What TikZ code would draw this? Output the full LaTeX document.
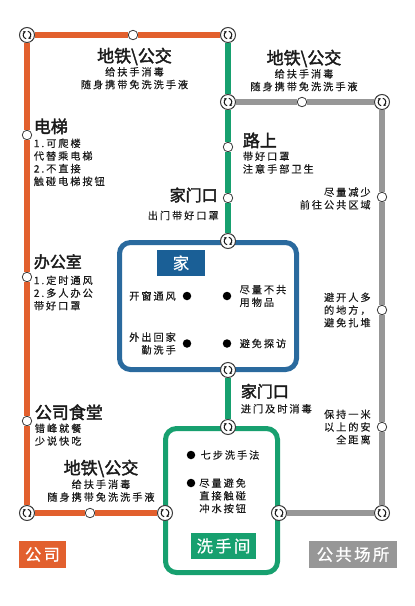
\documentclass[tikz,border=0pt]{standalone}
\usepackage{fontspec}
\usepackage{xcolor}
\usetikzlibrary{arrows.meta, positioning}
\newfontfamily\headcjk[FakeBold=2.2]{Noto Sans CJK SC}
\newfontfamily\notecjk[LetterSpace=19, FakeBold=0.35]{Noto Sans CJK SC}
\newfontfamily\tagcjk[LetterSpace=14, FakeBold=0.7]{Noto Sans CJK SC}
\definecolor{lineorange}{HTML}{E2602E}
\definecolor{linegreen}{HTML}{17A06F}
\definecolor{linegray}{HTML}{979797}
\definecolor{homeblue}{HTML}{2A6A9E}
\definecolor{tagblue}{HTML}{1A5F96}
\definecolor{inkdark}{HTML}{1A1A1A}

\begin{document}
\begin{tikzpicture}[
      x=1pt, y=-1pt,
      junction/.style={circle, draw=inkdark!85, line width=1pt, fill=white, inner sep=0pt,
                  minimum size=15pt,
                  path picture={
                    \draw[shift={(path picture bounding box.center)}, line width=1pt, inkdark,
                          -{Stealth[length=2.4pt,width=3pt]}]
                      (-0.8,3.8) .. controls (-4.6,3) and (-4.4,-2) .. (-1.2,-3.6);
                    \draw[shift={(path picture bounding box.center)}, line width=1pt, inkdark,
                          -{Stealth[length=2.4pt,width=3pt]}]
                      (0.8,-3.8) .. controls (4.6,-3) and (4.4,2) .. (1.2,3.6);
                  }},
      station/.style={circle, draw=inkdark!85, line width=0.8pt, fill=white, inner sep=0pt,
                  minimum size=9.5pt},
      dot/.style={circle, fill=black, inner sep=0pt, minimum size=8.5pt},
      head/.style={inner sep=0pt, text=inkdark, font=\fontsize{17}{20}\selectfont\headcjk},
      subhead/.style={head, font=\fontsize{16}{20}\selectfont\headcjk},
      note/.style={inner sep=0pt, text=inkdark, align=left,
                  font=\fontsize{10.2}{12.7}\selectfont\notecjk},
      tag/.style={inner sep=0pt, text=white, minimum height=26.5pt,
                  font=\fontsize{16.4}{20}\selectfont\tagcjk},
      roombox/.style={draw, line width=5pt, rounded corners=11pt, fill=white, inner sep=0pt},
      orangeline/.style={lineorange, line width=6.5pt},
      greenline/.style={linegreen, line width=6pt},
      grayline/.style={linegray, line width=6pt}
    ]
    \useasboundingbox (0,0) rectangle (415,606);

    \node[roombox, draw=homeblue, minimum width=177pt, minimum height=127pt] (home) at (208,306) {};
    \node[roombox, draw=linegreen, minimum width=112pt, minimum height=144pt] (wash) at (221.5,500.5) {};

    \begin{scope}[on grid]
      \node[junction] (tl) at (27,35) {};
      \node[junction, right=201pt of tl] (top) {};
      \node[junction, below=67pt of top] (mid) {};
      \node[junction, right=154pt of mid] (tr) {};
      \node[junction, below=139pt of mid] (hometop) {};
      \node[junction, below=129pt of hometop] (homebot) {};
      \node[junction, below=57pt of homebot] (washtop) {};
      \node[junction, below=478pt of tl] (bl) {};
      \node[junction, right=138pt of bl] (washl) {};
      \node[junction, right=114pt of washl] (washr) {};
      \node[junction, right=103pt of washr] (br) {};

      \node[station, right=106pt of tl] (metroa) {};
      \node[station, below=100pt of tl] (lift) {};
      \node[station, below=242pt of tl] (office) {};
      \node[station, below=386pt of tl] (canteen) {};
      \node[station, right=63pt of bl] (metroc) {};
      \node[station, right=74pt of mid] (metrob) {};
      \node[station, below=45pt of mid] (road) {};
      \node[station, below=96pt of mid] (door) {};
      \node[station, below=95pt of tr] (graya) {};
      \node[station, below=208pt of tr] (grayb) {};
      \node[station, below=325pt of tr] (grayc) {};
    \end{scope}

    \draw[orangeline] (top) -- (metroa) -- (tl) -- (lift) -- (office) -- (canteen) -- (bl) -- (metroc) -- (washl);
    \draw[greenline] (top) -- (mid) -- (road) -- (door) -- (hometop);
    \draw[greenline] (homebot) -- (washtop);
    \draw[grayline] (mid) -- (metrob) -- (tr) -- (graya) -- (grayb) -- (grayc) -- (br) -- (washr);

    \node[head] (metroatitle) at (134.5,56.5) {地铁\textbackslash 公交};
    \node[note, align=center, below=1.5pt of metroatitle] (metroanote) {给扶手消毒\\随身携带免洗洗手液};
    \node[head] (metrobtitle) at (304,58.5) {地铁\textbackslash 公交};
    \node[note, align=center, below=1.5pt of metrobtitle] (metrobnote) {给扶手消毒\\随身携带免洗洗手液};
    \node[head] (metroctitle) at (101,468.5) {地铁\textbackslash 公交};
    \node[note, align=center, below=2pt of metroctitle] (metrocnote) {给扶手消毒\\随身携带免洗洗手液};

    \node[head, above right=-3pt and 3pt of lift] (lifttitle) {电梯};
    \node[note, below right=4pt and 0pt of lifttitle.south west] (liftnote) {1.可爬楼\\代替乘电梯\\2.不直接\\触碰电梯按钮};
    \node[subhead, above right=4pt and 3pt of office] (officetitle) {办公室};
    \node[note, below right=6pt and 0pt of officetitle.south west] (officenote) {1.定时通风\\2.多人办公\\带好口罩};
    \node[head, above right=-3pt and 4pt of canteen] (canteentitle) {公司食堂};
    \node[note, below right=3pt and 0pt of canteentitle.south west] (canteennote) {错峰就餐\\少说快吃};

    \node[head, above right=-5pt and 11pt of road] (roadtitle) {路上};
    \node[note, below right=3pt and 0pt of roadtitle.south west] (roadnote) {带好口罩\\注意手部卫生};
    \node[subhead, left=5pt of door, yshift=3pt] (doortitle) {家门口};
    \node[note, below left=8pt and -1pt of doortitle.south east] (doornote) {出门带好口罩};
    \node[subhead, below right=8pt and 7pt of homebot] (backtitle) {家门口};
    \node[note, below right=5pt and 0pt of backtitle.south west] (backnote) {进门及时消毒};

    \node[note, align=right, left=6pt of graya, yshift=-1.5pt] (grayanote) {尽量减少\\前往公共区域};
    \node[note, align=right, left=6pt of grayb] (graybnote) {避开人多\\的地方，\\避免扎堆};
    \node[note, align=right, left=6pt of grayc] (graycnote) {保持一米\\以上的安\\全距离};

    \node[tag, fill=tagblue, minimum width=48pt, minimum height=26pt] (hometag) at (181,263) {家};
    \node[dot] (dota) at (187,296) {};
    \node[dot] (dotb) at (227,296) {};
    \node[dot] (dotc) at (187,343.5) {};
    \node[dot] (dotd) at (227,343.5) {};
    \node[note, align=right, left=6.5pt of dota] (windnote) {开窗通风};
    \node[note, right=8pt of dotb] (sharenote) {尽量不共\\用物品};
    \node[note, align=right, left=6.5pt of dotc] (handnote) {外出回家\\勤洗手};
    \node[note, right=8pt of dotd] (visitnote) {避免探访};

    \node[dot] (dote) at (191,455) {};
    \node[dot] (dotf) at (191,483) {};
    \node[note, right=5pt of dote] (stepnote) {七步洗手法};
    \node[note, below right=-8pt and 5pt of dotf] (flushnote) {尽量避免\\直接触碰\\冲水按钮};
    \node[tag, fill=linegreen, minimum width=65pt] (washtag) at (223.5,546) {洗手间};

    \node[tag, fill=lineorange, minimum width=47pt, minimum height=27pt] (companytag) at (42.5,554.5) {公司};
    \node[tag, fill=linegray, minimum width=88pt, minimum height=27pt] (publictag) at (353,554.5) {公共场所};
  \end{tikzpicture}
\end{document}
